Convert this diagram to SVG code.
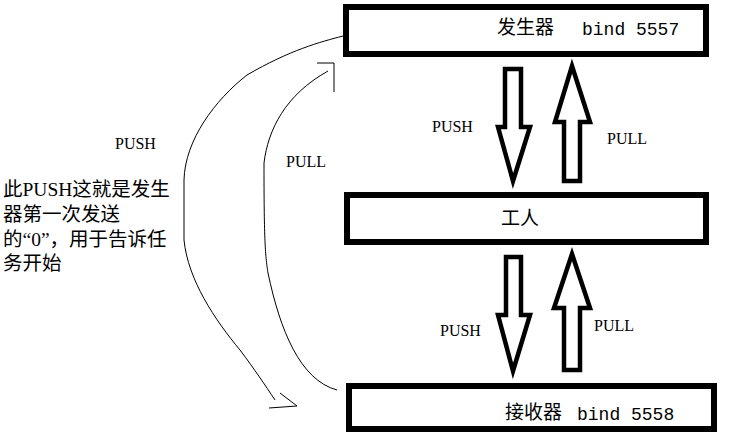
<svg xmlns="http://www.w3.org/2000/svg" width="742" height="438" viewBox="0 0 742 438">
<style>
.box{fill:#fff;stroke:#000;stroke-width:6}
.arr{fill:#fff;stroke:#000;stroke-width:4.5;stroke-linejoin:miter}
.cur{fill:none;stroke:#000;stroke-width:1}
.lbl{font-family:"Liberation Serif","Noto Sans CJK SC",serif;font-size:16px;fill:#000}
.cjk{font-family:"Liberation Serif","Noto Sans CJK SC",serif;font-size:19px;fill:#000}
.mono{font-family:"Liberation Mono",monospace;font-size:18px;fill:#000}
.note{font-family:"Liberation Serif","Noto Sans CJK SC",serif;font-size:19.5px;fill:#000}
</style>
<rect width="742" height="438" fill="#fff"/>
<g id="generator">
<rect class="box" x="346" y="7" width="360" height="47"/>
<text class="cjk" x="497" y="34">发生器</text>
<text class="mono" x="582" y="35">bind 5557</text>
</g>
<g id="worker">
<rect class="box" x="347" y="195" width="359" height="47"/>
<text class="cjk" x="501" y="225">工人</text>
</g>
<g id="receiver">
<rect class="box" x="349" y="386" width="365" height="43"/>
<text class="cjk" x="505" y="419">接收器</text>
<text class="mono" x="577" y="420">bind 5558</text>
</g>
<g id="connectors">
<polygon class="arr" points="505,69 521,69 521,127 530,127 513,181 498,127 505,127"/>
<polygon class="arr" points="572,66 590,122 580,122 580,181 564,181 564,122 555,122"/>
<polygon class="arr" points="506,257 521,257 521,315 530,315 513,371 498,315 506,315"/>
<polygon class="arr" points="572,254 590,308 580,308 580,370 564,370 564,308 554,308"/>
<path class="cur" d="M343,36 C320,42 290,50 247,75 C215,100 185,140 184,180 L184,240 C188,280 215,320 240,350 C255,370 265,385 275,400"/>
<path class="cur" d="M280,393 L297,406 L269,408"/>
<path class="cur" d="M337,390 C300,380 280,330 268,273 C265,255 264,235 264,163 C268,130 285,95 328,71"/>
<path class="cur" d="M317,63 L334,63 L334,92"/>
</g>
<g id="labels">
<text class="lbl" x="432" y="132">PUSH</text>
<text class="lbl" x="607" y="144">PULL</text>
<text class="lbl" x="440" y="336">PUSH</text>
<text class="lbl" x="594" y="331">PULL</text>
<text class="lbl" x="115" y="149">PUSH</text>
<text class="lbl" x="286" y="167">PULL</text>
<text class="note" x="3" y="196">此PUSH这就是发生</text>
<text class="note" x="3" y="221">器第一次发送</text>
<text class="note" x="3" y="246">的“0”，用于告诉任</text>
<text class="note" x="3" y="270">务开始</text>
</g>
</svg>
